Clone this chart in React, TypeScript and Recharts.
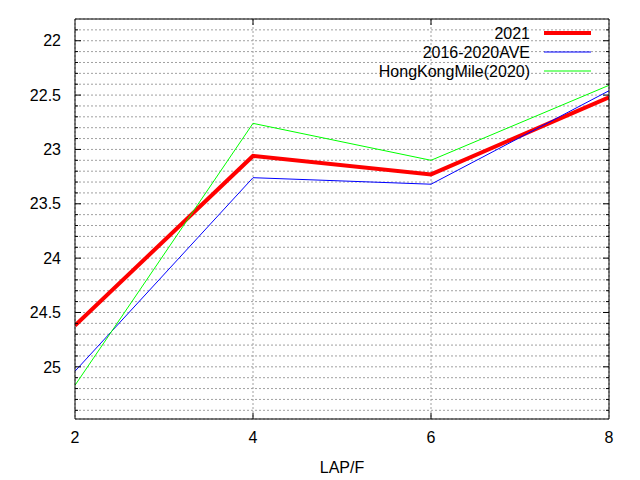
import React from 'react';
import { LineChart, Line, XAxis, YAxis, CartesianGrid, Legend } from 'recharts';

const laps = [2, 4, 6, 8];
const series2021 = [24.62, 23.06, 23.23, 22.52];
const seriesAve = [25.04, 23.26, 23.32, 22.46];
const seriesHK = [25.17, 22.76, 23.1, 22.41];

const seriesNames = ['2021', '2016-2020AVE', 'HongKongMile(2020)'];
const seriesColors = ['#ff0000', '#0000ff', '#00ff00'];
const seriesWidths = [4, 1, 1];

const xTicks = [2, 4, 6, 8];
const yTicks = [
  21.9, 22, 22.1, 22.2, 22.3, 22.4, 22.5, 22.6, 22.7, 22.8, 22.9, 23, 23.1, 23.2, 23.3, 23.4,
  23.5, 23.6, 23.7, 23.8, 23.9, 24, 24.1, 24.2, 24.3, 24.4, 24.5, 24.6, 24.7, 24.8, 24.9, 25,
  25.1, 25.2, 25.3, 25.4,
];
const yDomain = [21.8, 25.48];
const xDomain = [2, 8];

const data = laps.map((lap, i) => ({
  lap,
  s2021: series2021[i],
  ave: seriesAve[i],
  hk: seriesHK[i],
}));

const FONT = '"Liberation Sans", Arial, sans-serif';

const isMajor = (v: number) => Math.abs(v * 2 - Math.round(v * 2)) < 1e-6;

const LeftTick = (props: any) => {
  const { x, y, payload } = props;
  const v = payload.value;
  const major = isMajor(v);
  return (
    <g>
      <line x1={x} x2={x + (major ? 6 : 3)} y1={y} y2={y} stroke="#000" strokeWidth={1} />
      {major && (
        <text x={x - 14} y={y + 5.7} textAnchor="end" fontSize={16} fontFamily={FONT} fill="#000">
          {String(v)}
        </text>
      )}
    </g>
  );
};

const RightTick = (props: any) => {
  const { x, y, payload } = props;
  const major = isMajor(payload.value);
  return <line x1={x} x2={x - (major ? 6 : 3)} y1={y} y2={y} stroke="#000" strokeWidth={1} />;
};

const BottomTick = (props: any) => {
  const { x, y, payload } = props;
  const v = payload.value;
  const inner = v !== xDomain[0] && v !== xDomain[1];
  return (
    <g>
      {inner && <line x1={x} x2={x} y1={y} y2={y - 6} stroke="#000" strokeWidth={1} />}
      <text x={x} y={y + 24} textAnchor="middle" fontSize={16} fontFamily={FONT} fill="#000">
        {String(v)}
      </text>
    </g>
  );
};

const TopTick = (props: any) => {
  const { x, y, payload } = props;
  const v = payload.value;
  const inner = v !== xDomain[0] && v !== xDomain[1];
  return inner ? <line x1={x} x2={x} y1={y} y2={y + 6} stroke="#000" strokeWidth={1} /> : <g />;
};

const LegendBox = () => (
  <svg width={320} height={64} style={{ display: 'block' }}>
    {seriesNames.map((name, i) => {
      const cy = 10 + i * 19;
      return (
        <g key={name}>
          <text x={240} y={cy + 5.7} textAnchor="end" fontSize={16} fontFamily={FONT} fill="#000">
            {name}
          </text>
          <line x1={254} x2={301} y1={cy} y2={cy} stroke={seriesColors[i]} strokeWidth={seriesWidths[i]} />
        </g>
      );
    })}
  </svg>
);

export default function App() {
  return (
    <div style={{ position: 'absolute', left: 0, top: 0, width: 640, height: 480, background: '#fff' }}>
      <LineChart width={640} height={480} data={data} margin={{ top: 0, right: 0, bottom: 0, left: 0 }}>
        <CartesianGrid
          stroke="#a0a0a0"
          strokeDasharray="2 2"
          strokeWidth={1}
          verticalPoints={undefined}
        />
        <XAxis
          dataKey="lap"
          type="number"
          domain={xDomain}
          ticks={xTicks}
          allowDataOverflow
          height={61}
          tickSize={0}
          tickMargin={0}
          tickLine={false}
          axisLine={{ stroke: '#000', strokeWidth: 1 }}
          tick={<BottomTick />}
          interval={0}
          label={{ value: 'LAP/F', position: 'insideBottom', offset: 7, fill: '#000', fontSize: 16, fontFamily: FONT }}
        />
        <XAxis
          xAxisId="top"
          orientation="top"
          dataKey="lap"
          type="number"
          domain={xDomain}
          ticks={xTicks}
          allowDataOverflow
          height={19}
          tickSize={0}
          tickMargin={0}
          tickLine={false}
          axisLine={{ stroke: '#000', strokeWidth: 1 }}
          tick={<TopTick />}
          interval={0}
        />
        <YAxis
          type="number"
          domain={yDomain}
          reversed
          ticks={yTicks}
          allowDataOverflow
          width={75}
          tickSize={0}
          tickMargin={0}
          tickLine={false}
          axisLine={{ stroke: '#000', strokeWidth: 1 }}
          tick={<LeftTick />}
          interval={0}
        />
        <YAxis
          yAxisId="right"
          orientation="right"
          type="number"
          domain={yDomain}
          reversed
          ticks={yTicks}
          allowDataOverflow
          width={31}
          tickSize={0}
          tickMargin={0}
          tickLine={false}
          axisLine={{ stroke: '#000', strokeWidth: 1 }}
          tick={<RightTick />}
          interval={0}
        />
        <Legend
          layout="vertical"
          align="center"
          verticalAlign="middle"
          content={<LegendBox />}
          wrapperStyle={{ left: 290, top: 23, width: 320, height: 64 }}
        />
        <Line
          type="linear"
          dataKey="s2021"
          stroke={seriesColors[0]}
          strokeWidth={seriesWidths[0]}
          dot={false}
          activeDot={false}
          isAnimationActive={false}
        />
        <Line
          type="linear"
          dataKey="ave"
          stroke={seriesColors[1]}
          strokeWidth={seriesWidths[1]}
          dot={false}
          activeDot={false}
          isAnimationActive={false}
        />
        <Line
          type="linear"
          dataKey="hk"
          stroke={seriesColors[2]}
          strokeWidth={seriesWidths[2]}
          dot={false}
          activeDot={false}
          isAnimationActive={false}
        />
      </LineChart>
    </div>
  );
}
